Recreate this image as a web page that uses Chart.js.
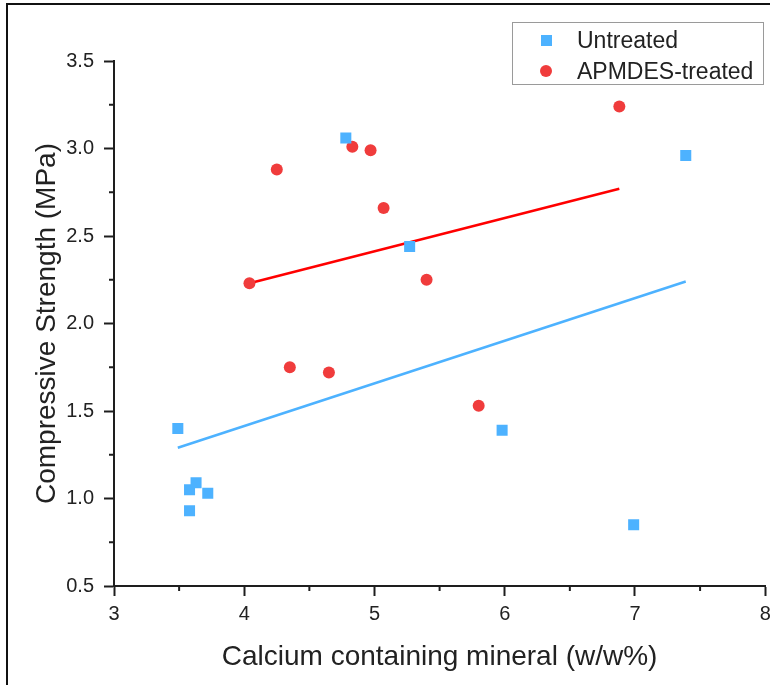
<!DOCTYPE html>
<html>
<head>
<meta charset="utf-8">
<script src="https://cdn.jsdelivr.net/npm/chart.js@4"></script>
<style>
  body { margin: 0; background: #fff; }
  #wrap { position: relative; width: 773px; height: 685px; overflow: hidden; }
  #frame { position: absolute; left: 6px; top: 3px; width: 762px; height: 700px;
           border-left: 2px solid #111; border-top: 2px solid #111; pointer-events: none; }
  #legend { position: absolute; left: 512px; top: 22px; width: 250px; height: 61px;
            border: 1px solid #9a9a9a; background: #fff;
            font-family: "Liberation Sans", Arial, sans-serif; font-size: 23px; color: #222; }
  .item { position: absolute; left: 0; height: 30px; line-height: 30px; }
  .item span.txt { position: absolute; left: 64px; white-space: nowrap; }
  .mk { position: absolute; }
</style>
</head>
<body>
<div id="wrap">
  <canvas id="myChart" width="773" height="685"></canvas>
  <div id="frame"></div>
  <div id="legend">
    <div class="item" style="top:2px"><span class="mk" style="left:28px;top:10px;width:11px;height:11px;background:#4db2ff"></span><span class="txt">Untreated</span></div>
    <div class="item" style="top:33px"><span class="mk" style="left:27px;top:9px;width:12px;height:12px;border-radius:50%;background:#f03c3c"></span><span class="txt">APMDES-treated</span></div>
  </div>
</div>
<script>
'use strict';

// ******* DATA *******
let untreatedX = [3.49, 3.58, 3.63, 3.58, 3.72, 4.78, 5.27, 5.98, 7.39, 6.99];
let untreatedY = [1.40, 1.05, 1.09, 0.93, 1.03, 3.06, 2.44, 1.39, 2.96, 0.85];
let treatedX = [4.04, 4.25, 4.35, 4.65, 4.83, 4.97, 5.07, 5.40, 5.80, 6.88];
let treatedY = [2.23, 2.88, 1.75, 1.72, 3.01, 2.99, 2.66, 2.25, 1.53, 3.24];

// fitted lines (end points)
let untreatedFitX = [3.49, 7.39];
let untreatedFitY = [1.29, 2.24];
let treatedFitX = [4.04, 6.88];
let treatedFitY = [2.23, 2.77];

let xTicks = [3, 4, 5, 6, 7, 8];
let yTicks = [0.5, 1.0, 1.5, 2.0, 2.5, 3.0, 3.5];

// ***** HELPERS *****
function toPoints(xs, ys) {
  let pts = [];
  for (let i = 0; i < xs.length; i++) {
    pts.push({ x: xs[i], y: ys[i] });
  }
  return pts;
}

const blue = '#4db2ff';
const red = '#f03c3c';
const axisColor = '#1e1e1e';
const fontFamily = '"Liberation Sans", Arial, sans-serif';

// minor ticks half way between the major ones
const minorTicks = {
  id: 'minorTicks',
  afterDraw(chart) {
    let ctx = chart.ctx;
    let xs = chart.scales.x;
    let ys = chart.scales.y;
    ctx.save();
    ctx.strokeStyle = axisColor;
    ctx.lineWidth = 2;
    for (let i = 0; i < xTicks.length - 1; i++) {
      let px = xs.getPixelForValue((xTicks[i] + xTicks[i + 1]) / 2);
      ctx.beginPath();
      ctx.moveTo(px, ys.bottom);
      ctx.lineTo(px, ys.bottom + 5);
      ctx.stroke();
    }
    for (let i = 0; i < yTicks.length - 1; i++) {
      let py = ys.getPixelForValue((yTicks[i] + yTicks[i + 1]) / 2);
      ctx.beginPath();
      ctx.moveTo(xs.left, py);
      ctx.lineTo(xs.left - 5, py);
      ctx.stroke();
    }
    ctx.restore();
  }
};

// ***** CHART *****
const data = {
  datasets: [
    {
      label: 'Untreated',
      data: toPoints(untreatedX, untreatedY),
      pointStyle: 'rect',
      pointRadius: 7.8,
      pointHoverRadius: 7.8,
      backgroundColor: blue,
      borderWidth: 0,
      order: 1
    },
    {
      label: 'APMDES-treated',
      data: toPoints(treatedX, treatedY),
      pointStyle: 'circle',
      pointRadius: 6,
      pointHoverRadius: 6,
      backgroundColor: red,
      borderWidth: 0,
      order: 1
    },
    {
      type: 'line',
      label: 'Untreated fit',
      data: toPoints(untreatedFitX, untreatedFitY),
      borderColor: blue,
      borderWidth: 2.5,
      pointRadius: 0,
      fill: false,
      order: 2
    },
    {
      type: 'line',
      label: 'APMDES-treated fit',
      data: toPoints(treatedFitX, treatedFitY),
      borderColor: '#ff0000',
      borderWidth: 2.5,
      pointRadius: 0,
      fill: false,
      order: 2
    }
  ]
};

const config = {
  type: 'scatter',
  data: data,
  options: {
    responsive: false,
    animation: false,
    devicePixelRatio: 1,
    layout: { padding: { top: 61, right: 7, left: 0, bottom: 0 } },
    plugins: {
      legend: { display: false },
      tooltip: { enabled: false }
    },
    scales: {
      x: {
        type: 'linear',
        min: 3,
        max: 8,
        afterFit: function (scale) {
          scale.height = 99;
          scale.paddingLeft = 0;
          scale.paddingRight = 0;
        },
        afterBuildTicks: function (scale) { scale.ticks = xTicks.map(v => ({ value: v })); },
        grid: { drawOnChartArea: false, drawTicks: true, tickLength: 10, tickWidth: 2, tickColor: axisColor },
        border: { display: true, color: axisColor, width: 2 },
        ticks: {
          color: '#222',
          padding: 6,
          font: { family: fontFamily, size: 20 },
          callback: v => String(v)
        },
        title: {
          display: true,
          text: 'Calcium containing mineral (w/w%)',
          color: '#222',
          font: { family: fontFamily, size: 28 },
          padding: { top: 0, bottom: 11 }
        }
      },
      y: {
        type: 'linear',
        min: 0.5,
        max: 3.5,
        afterFit: function (scale) {
          scale.width = 114;
          scale.paddingTop = 0;
          scale.paddingBottom = 0;
        },
        afterBuildTicks: function (scale) { scale.ticks = yTicks.map(v => ({ value: v })); },
        grid: { drawOnChartArea: false, drawTicks: true, tickLength: 10, tickWidth: 2, tickColor: axisColor },
        border: { display: true, color: axisColor, width: 2 },
        ticks: {
          color: '#222',
          padding: 10,
          font: { family: fontFamily, size: 20 },
          callback: v => v.toFixed(1)
        },
        title: {
          display: true,
          text: 'Compressive Strength (MPa)',
          color: '#222',
          font: { family: fontFamily, size: 28 },
          padding: { top: 30, bottom: 0 }
        }
      }
    }
  },
  plugins: [minorTicks]
};

let canvasChart = document.getElementById('myChart');
const myChart = new Chart(canvasChart, config);
</script>
</body>
</html>
